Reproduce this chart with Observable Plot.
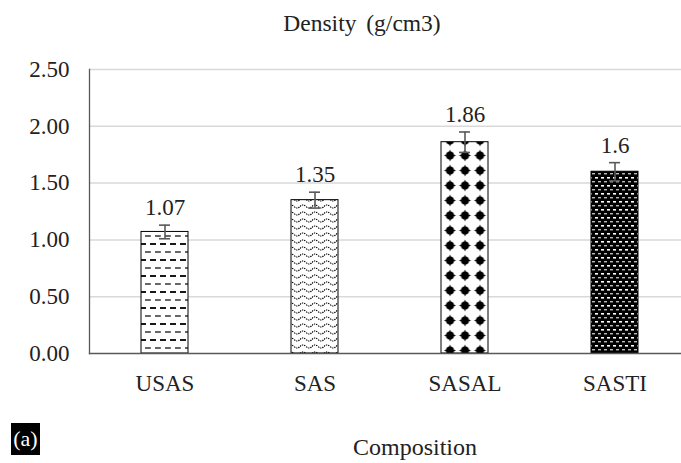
<!DOCTYPE html>
<html>
<head>
<meta charset="utf-8">
<script src="https://cdn.jsdelivr.net/npm/d3@7"></script>
<script src="https://cdn.jsdelivr.net/npm/@observablehq/plot@0.6"></script>
<style>
  html, body { margin: 0; padding: 0; background: #fff; }
  #wrap { position: relative; width: 681px; height: 463px; font-family: "Liberation Serif", "Tinos", serif; color: #222; }
  .lbl { position: absolute; white-space: nowrap; }
  #title { left: 362px; top: 11px; font-size: 23.5px; line-height: 24px; transform: translateX(-50%); word-spacing: 4px; }
  #xtitle { left: 415px; top: 435px; font-size: 24px; line-height: 24px; transform: translateX(-50%); }
  #tag { left: 11px; top: 423px; width: 29px; height: 32px; background: #000; color: #fff; font-size: 22px; line-height: 32px; text-align: center; }
  svg text { font-family: "Liberation Serif", "Tinos", serif; }
</style>
</head>
<body>
<div id="wrap">
  <div id="title" class="lbl">Density (g/cm3)</div>
  <div id="xtitle" class="lbl">Composition</div>
  <div id="tag" class="lbl">(a)</div>
</div>
<script>
const categories = ["USAS", "SAS", "SASAL", "SASTI"];
const values = [1.07, 1.35, 1.86, 1.6];
const errors = [0.06, 0.07, 0.09, 0.08];
const valueLabels = ["1.07", "1.35", "1.86", "1.6"];
const yTicks = [0, 0.5, 1.0, 1.5, 2.0, 2.5];
const patterns = ["url(#pDash)", "url(#pWave)", "url(#pStar)", "url(#pDark)"];

const data = categories.map((c, i) => ({
  cat: c, value: values[i], err: errors[i], label: valueLabels[i], fill: patterns[i]
}));

const chart = Plot.plot({
  width: 681,
  height: 463,
  marginLeft: 89,
  marginRight: 0,
  marginTop: 69,
  marginBottom: 110,
  style: { fontFamily: "'Liberation Serif', 'Tinos', serif", background: "transparent", color: "#222" },
  x: { domain: categories, range: [89, 689], paddingInner: 0.69, paddingOuter: 0.345, label: null },
  y: { domain: [0, 2.5], label: null },
  marks: [
    Plot.gridY(yTicks.filter(d => d > 0), { stroke: "#d9d9d9", strokeOpacity: 1, strokeWidth: 1.5 }),
    Plot.axisY(yTicks, { tickSize: 0, tickPadding: 20, fontSize: 23, tickFormat: d3.format(".2f"), label: null }),
    Plot.axisX({ tickSize: 0, tickPadding: 21, fontSize: 23, label: null }),
    Plot.barY(data, { x: "cat", y: "value", fill: d => d.fill, stroke: "#000", strokeWidth: 1 }),
    Plot.ruleX(data, { x: "cat", y1: d => d.value - d.err, y2: d => d.value + d.err, stroke: "#595959", strokeWidth: 1.6 }),
    Plot.tickY(data, { x: "cat", y: d => d.value + d.err, stroke: "#595959", strokeWidth: 1.6, insetLeft: 18, insetRight: 18 }),
    Plot.tickY(data, { x: "cat", y: d => d.value - d.err, stroke: "#595959", strokeWidth: 1.6, insetLeft: 18, insetRight: 18 }),
    Plot.text(data, { x: "cat", y: d => d.value + d.err, text: "label", dy: -10, lineAnchor: "bottom", fontSize: 23, fill: "#222" }),
    Plot.frame({ anchor: "left", stroke: "#595959", strokeWidth: 1.3 }),
    Plot.frame({ anchor: "bottom", stroke: "#595959", strokeWidth: 1.3 })
  ]
});

const defs = `
<defs>
  <pattern id="pDash" patternUnits="userSpaceOnUse" width="10" height="16">
    <rect width="10" height="16" fill="#fff"/>
    <line x1="0" y1="4" x2="6" y2="4" stroke="#000" stroke-width="1.8"/>
    <line x1="5" y1="12" x2="10" y2="12" stroke="#000" stroke-width="1.2"/>
    <line x1="0" y1="12" x2="1" y2="12" stroke="#000" stroke-width="1.2"/>
  </pattern>
  <pattern id="pWave" patternUnits="userSpaceOnUse" width="12" height="7">
    <rect width="12" height="7" fill="#fff"/>
    <path d="M0,3.5 Q3,0.5 6,3.5 T12,3.5" fill="none" stroke="#000" stroke-width="1.2" stroke-dasharray="1.3,1"/>
  </pattern>
  <pattern id="pStar" patternUnits="userSpaceOnUse" x="7.5" y="-2" width="15" height="15">
    <rect width="15" height="15" fill="#fff"/>
    <circle cx="7.5" cy="7.5" r="4" fill="#000"/>
    <path d="M7.5,1.5 L9.2,5.8 L13.5,7.5 L9.2,9.2 L7.5,13.5 L5.8,9.2 L1.5,7.5 L5.8,5.8 Z" fill="#000"/>
  </pattern>
  <pattern id="pDark" patternUnits="userSpaceOnUse" width="6" height="8">
    <rect width="6" height="8" fill="#000"/>
    <rect x="1" y="1" width="3" height="1.6" fill="#fff"/>
    <rect x="4" y="5" width="2" height="1.4" fill="#bbb"/>
    <rect x="0" y="5" width="1" height="1.4" fill="#bbb"/>
  </pattern>
</defs>`;
chart.insertAdjacentHTML("afterbegin", defs);
chart.style.position = "absolute";
chart.style.left = "0";
chart.style.top = "0";
document.getElementById("wrap").prepend(chart);
</script>
</body>
</html>
